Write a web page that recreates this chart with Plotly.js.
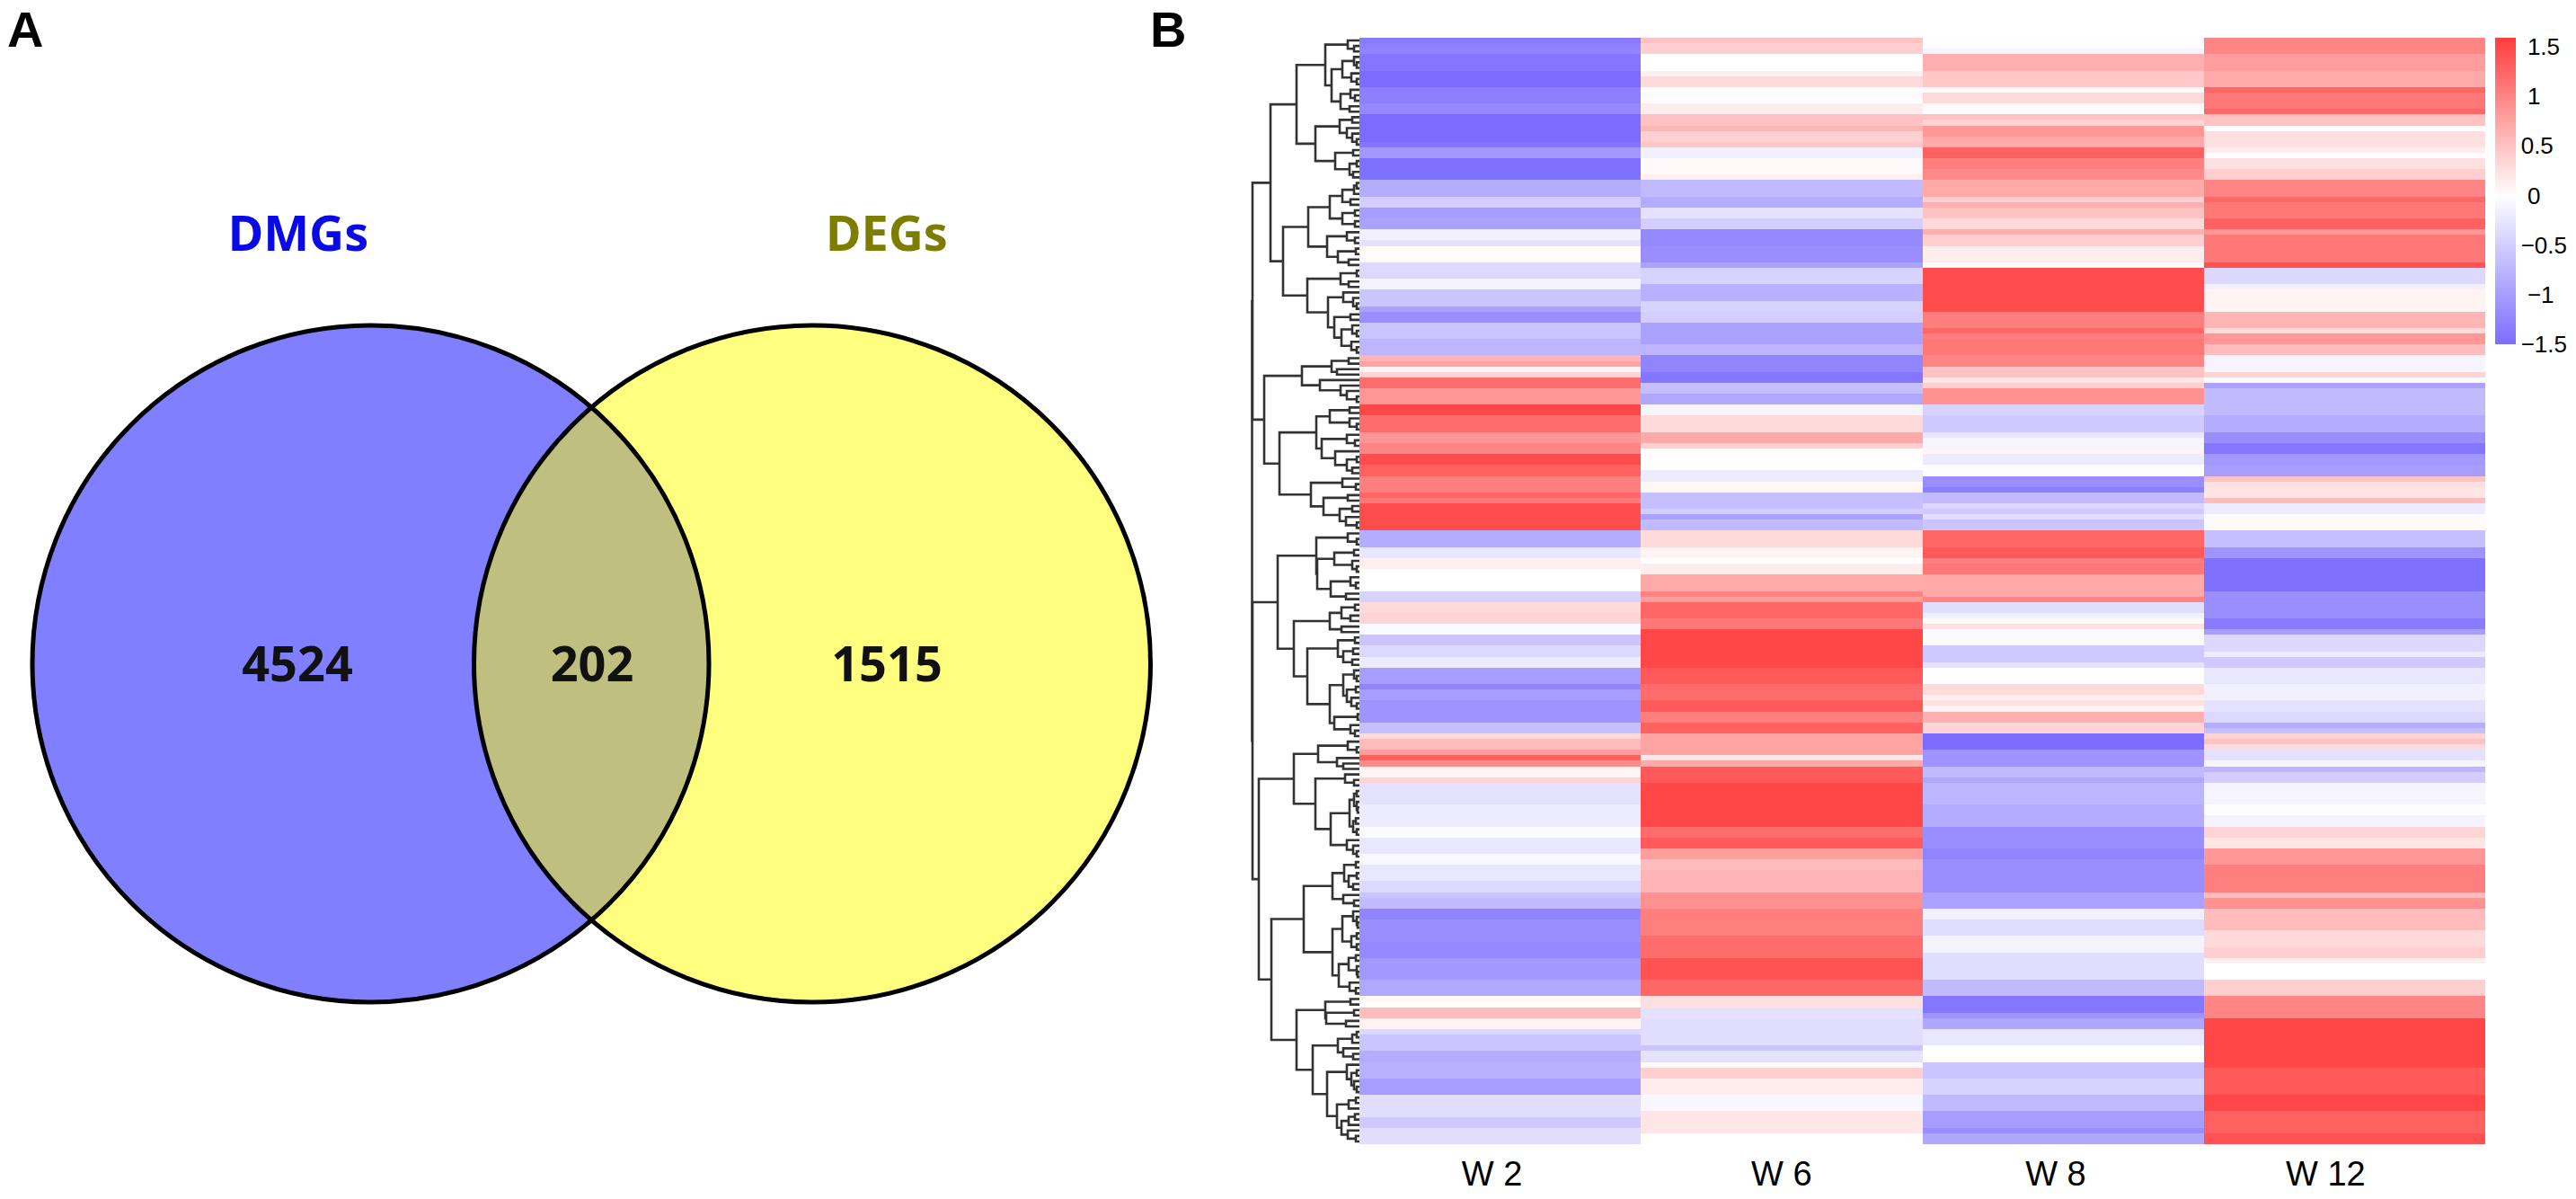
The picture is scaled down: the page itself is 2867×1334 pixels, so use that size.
<!DOCTYPE html>
<html>
<head>
<meta charset="utf-8">
<script src="https://cdn.plot.ly/plotly-3.0.1.min.js"></script>
<style>html,body{margin:0;padding:0;background:#fff}#chart{width:2867px;height:1334px}</style>
</head>
<body>
<div id="chart"></div>
<script>
// ---- Panel A: Venn ----
const setNames = ['DMGs', 'DEGs'];
const setColors = ['#0a0ae6', '#7d7d00'];
const setNameX = [332, 987];
const setNameY = [265, 265];
const setFills = ['rgba(0,0,255,0.5)', 'rgba(255,255,0,0.5)'];
const circleX = [412.5, 904];
const circleY = [738.5, 738.5];
const circleR = [376.5, 376.5];
const regionCounts = ['4524', '202', '1515'];
const regionX = [331, 659, 987];
const regionY = [744, 744, 744];

// ---- Panel B: heatmap, 202 rows. Each column: [row where the run ends, value] ----
const columns = ['W 2', 'W 6', 'W 8', 'W 12'];
const columnTickPos = [-0.029, 0, -0.026, -0.067];
const W2 = [[1,-1.35],[2,-1.3],[3,-1.25],[6,-1.4],[9,-1.5],[12,-1.3],[14,-1.2],[19,-1.5],[20,-1.4],[22,-1.05],[26,-1.45],[29,-0.85],[31,-0.5],[33,-1.0],[35,-0.95],[37,-0.15],[38,-0.3],[41,0.03],
[44,-0.4],[46,-0.12],[49,-0.6],[50.5,-0.95],[52.5,-1.15],[54.6,-0.6],[57.6,-0.75],[58.6,0.6],[59.6,0.75],[60.7,0.1],[61.6,0.35],[63.7,1.2],[66.7,0.85],[68.6,1.5],[71.7,1.2],[73.8,0.85],[75.9,1.0],[77.9,1.45],[79.8,1.3],[82.8,1.05],
[83.9,1.25],[84.9,1.1],[90,1.45],[92.9,-0.85],[95,-0.25],[97,0.12],[101,0.0],[103,-0.45],[105,0.3],[107,0.35],[109,-0.05],[111,-0.6],[113,-0.4],[115,-0.2],[118,-1.0],[119,-1.25],[121,-1.0],
[125.2,-1.1],[127.3,-0.65],[128.4,0.3],[130.4,0.55],[131.5,0.8],[132.3,1.3],[133.4,0.95],[135.3,0.08],[136.4,0.35],[140.5,-0.3],[144.3,-0.2],[146.5,-0.05],[149.5,-0.25],[150.6,-0.07],[153.6,-0.25],[155.8,-0.4],[157.5,-0.6],[158.6,-0.7],[161.3,-1.25],
[165.1,-1.15],[167.6,-1.2],[172.5,-1.05],[174.7,-0.9],[175.8,0.07],[176.9,0.0],[178.8,0.55],[180.9,0.1],[182,-0.4],[185.4,-0.6],[186.9,-0.85],[189.7,-0.8],[192.9,-1.0],[197.1,-0.35],[199,-0.55],[202,-0.35]];
const W6 = [[1,0.5],[3,0.4],[6,0.0],[7,0.12],[9,0.3],[10,0.02],[11,-0.05],[12,-0.02],[14,0.15],[16,0.5],[17,0.6],[19,0.38],[20,0.45],[22,-0.15],[25,0.05],[26,0.12],[29,-0.7],[31,-0.85],[33,-0.3],[35,-0.5],[38,-1.2],[41,-1.15],
[42.4,-0.95],[45.3,-0.45],[48.3,-0.8],[50.5,-0.45],[52.5,-0.5],[55.7,-0.95],[57.6,-0.75],[61.5,-1.25],[62.6,-1.4],[64.8,-0.65],[66.7,-0.9],[68.8,-0.1],[71.7,0.3],[73.8,0.7],[74.9,0.4],[76.8,0.02],[78.8,0.0],[80.9,-0.2],
[82.8,0.07],[85.8,-0.65],[86.9,-0.5],[88,-0.95],[90,-0.7],[92.9,0.3],[95,0.1],[96.2,0.0],[98.1,0.15],[101.1,0.7],[102,1.0],[103,0.8],[106.2,1.25],[108.2,1.1],[115.1,1.5],[118.1,1.35],[121,1.2],
[123.3,1.35],[125.3,1.05],[127.3,1.3],[131,0.75],[131.5,0.85],[132.4,0.2],[133.4,0.7],[136.4,1.35],[144.3,1.5],[145.6,1.2],[148.5,1.35],[150.4,0.8],[151.7,0.55],[155.6,0.6],[156.5,1.05],[158.8,0.9],[161.3,1.05],
[163.8,1.05],[167.9,1.2],[171.7,1.4],[174.7,1.25],[176.9,0.25],[178.8,-0.3],[183.7,-0.35],[184.9,-0.6],[186.7,-0.3],[188,0.04],[189.9,0.4],[193,0.15],[195.9,-0.08],[200,0.2],[202,0.0]];
const W8 = [[2,0.02],[3,-0.12],[6,0.65],[9,0.45],[10,0.05],[12,0.3],[13,0.05],[14,-0.02],[15,0.5],[16,0.35],[18,0.85],[20,0.7],[22,1.3],[24,1.05],[26,0.95],[29,0.7],[30,0.4],[31,0.65],[33,0.5],[35,0.3],[36,0.65],[38,0.4],[40.7,0.15],
[42.4,0.05],[50.4,1.45],[52.7,1.05],[54.4,1.25],[55.5,1.05],[58.5,1.1],[59.6,1.0],[60.5,1.2],[61.8,0.5],[62.7,0.2],[63.7,0.4],[66.7,0.9],[68.6,-0.45],[71.7,-0.55],[72.7,-0.25],[74.6,-0.1],[75.9,0.1],[77.6,-0.2],[79.8,-0.03],[81.7,-1.15],
[82.8,-1.3],[84.9,-0.7],[85.8,-0.4],[86.9,-0.55],[88,-0.35],[90,-0.6],[92.9,1.25],[94.8,1.35],[95.9,1.05],[97.9,1.1],[102,0.7],[103,1.0],[105,-0.35],[106,-0.15],[107,0.03],[108.1,0.25],[111.3,-0.05],[114.3,-0.55],[115.1,-0.3],[118.2,0.0],[120.3,0.3],[121.3,0.12],
[122.4,0.25],[123.3,0.1],[125.3,0.65],[127.3,0.35],[130.4,-1.5],[133.3,-1.1],[134.6,-0.7],[136.4,-0.9],[140.5,-0.75],[144.3,-0.85],[148.5,-1.15],[150.4,-1.25],[155.6,-1.15],[158.6,-0.95],[161.3,-0.15],
[163.6,-0.35],[166.6,-0.12],[171.7,-0.35],[174.9,-0.7],[177.7,-1.4],[178.8,-1.1],[180.9,-0.9],[183.7,-0.25],[186.9,0.0],[190,-0.6],[193,-0.45],[196,-0.7],[199.2,-1.0],[200.4,-1.15],[202,-0.9]];
const W12 = [[3,1.0],[6,0.8],[9,0.7],[10,1.25],[13,1.1],[14,1.25],[16,0.5],[17,0.02],[20,0.25],[21,0.15],[22,0.02],[24,0.25],[26,0.4],[29,1.0],[30,1.25],[33,1.1],[35,1.3],[36,0.85],[40.7,1.1],
[41.5,1.25],[42.4,1.4],[45.3,-0.4],[46.4,-0.15],[50.5,0.1],[52.6,0.6],[54.5,0.3],[55.7,0.85],[57.6,0.55],[60.7,-0.1],[61.6,0.35],[62.6,-0.05],[63.7,-0.95],[64.5,-1.0],[68.8,-0.7],[71.7,-0.85],[73.8,-1.15],[75.7,-1.4],[77.9,-1.05],[79.8,-1.0],[80.7,0.5],
[81.7,0.25],[83.9,0.2],[84.9,0.55],[86.9,-0.2],[90,0.03],[92.9,-0.65],[94.8,-1.1],[100.9,-1.45],[103,-1.15],[106,-1.15],[108,-1.35],[109,-1.0],[112,-0.4],[113,-0.2],[115,-0.55],[118.2,-0.25],[121,-0.15],
[123.3,-0.3],[125.3,-0.4],[126.3,-0.85],[127.3,-0.65],[128.4,0.35],[129.3,0.5],[130.4,0.3],[132.3,-0.3],[133.4,-0.1],[134.5,-0.75],[136.4,-0.5],[140.5,-0.1],[142.4,-0.02],[144.3,-0.12],[145.6,0.35],[148.5,0.2],[150.6,0.85],[155.6,1.05],[156.7,0.55],[158.6,0.9],[163.5,0.55],
[165.7,0.3],[167.6,0.4],[169.5,0.12],[171.7,0.0],[174.7,0.4],[178.8,1.0],[187.6,1.5],[193,1.35],[195.8,1.5],[200,1.3],[202,1.4]];

const barTickVals = [1.5, 1, 0.5, 0, -0.5, -1, -1.5];
const barTickText = ['\u00a01.5', '\u00a01', '0.5', '\u00a00', '\u22120.5', '\u00a0\u22121', '\u22121.5'];

// ---- Dendrogram: [merge height, upper child, lower child]; 0 is a leaf ----
const clusterA = [99,
  [70,
    [38,[13,0,[6,0,0]],[31,[19,[6,0,[3,0,0]],[9,0,[3,0,0]]],[21,[10,0,[5,0,0]],[11,0,0]]]],
    [49,[22,[8,0,0],[14,0,[8,0,[3,0,0]]]],[27,[7,0,0],[11,[3,0,0],[7,0,0]]]]],
  [85,
    [57,[33,[19,[6,[3,0,0],0],[10,0,0]],[19,[5,0,0],[5,0,0]]],[36,[14,0,[5,0,0]],[24,[4,0,0],[12,0,0]]]],
    [58,[21,[3,0,0],[12,0,0]],[35,[18,0,[7,0,[3,0,0]]],[28,[10,0,0],[20,[8,0,[3,0,0]],[9,0,[3,0,0]]]]]]]];
const clusterB = [106,
  [64,[31,[12,0,0],[25,0,0]],[44,0,[21,0,[14,0,[3,0,0]]]]],
  [89,
    [48,[33,[11,0,0],[11,0,[3,0,0]]],[42,[14,0,[5,0,0]],[27,0,[14,[3,0,0],[8,0,0]]]]],
    [54,[19,0,[4,0,0]],[40,[13,0,0],[22,[8,0,0],[15,0,[3,0,0]]]]]]];
const clusterC = [91,
  [48,[13,0,[3,0,0]],[47,[28,[6,0,0],[8,0,[3,0,0]]],[32,[10,0,[4,0,0]],[15,0,0]]]],
  [73,
    [33,[20,[5,0,0],[10,0,0]],[20,0,0]],
    [58,[24,[5,0,0],[18,[7,0,0],[8,0,0]]],
      [33,[18,[6,0,[3,0,0]],[14,[4,0,0],[9,0,[3,0,0]]]],[28,[2,0,0],[10,0,[5,0,0]]]]]]];
const clusterD = [112,
  [73,
    [46,[13,0,[3,0,0]],[25,0,[18,0,0]]],
    [49,[16,0,[6,0,0]],[32,[11,[6,[3,0,0],[3,0,[2,0,0]]],[7,[4,0,0],[3,0,0]]],[14,0,[7,0,[3,0,0]]]]]],
  [98,
    [62,
      [30,[17,[4,0,0],[12,[3,0,0],[7,0,0]]],[18,0,[6,0,0]]],
      [30,[19,[7,0,[3,0,[2,0,0]]],[9,[3,0,0],[3,0,0]]],[23,[12,[4,0,0],[3,0,[2,0,0]]],[11,0,[4,0,0]]]]],
    [70,
      [38,[10,0,0],[37,[6,0,0],[15,0,0]]],
      [52,[24,[8,[3,0,0],0],[18,0,[7,0,0]]],
        [36,[14,0,[9,[3,0,0],[6,0,[3,0,0]]]],[25,[12,[4,0,0],0],[20,[12,[5,0,0],0],[13,0,[4,0,0]]]]]]]]];
const tree = [119.5,[119,clusterA,clusterB],[119,clusterC,clusterD]];

// ---- build ----
const nRows = 202;
function expand(runs){
  const out = []; let k = 0;
  for (let r = 0; r < nRows; r++){
    while (k < runs.length-1 && r + 0.5 >= runs[k][0]) k++;
    out.push(runs[k][1]);
  }
  return out;
}
const cols = [W2, W6, W8, W12].map(expand);
const z = []; const rowY = [];
for (let r = 0; r < nRows; r++){ z.push(cols.map(c => c[r])); rowY.push(r + 0.5); }

const dx = [], dy = [];
let leafCounter = 0;
function walk(n){
  if (n === 0) { const y = leafCounter + 0.5; leafCounter++; return {h:0, y:y}; }
  const a = walk(n[1]), b = walk(n[2]);
  dx.push(a.h, n[0], n[0], b.h, null);
  dy.push(a.y, a.y, b.y, b.y, null);
  return {h:n[0], y:(a.y+b.y)/2};
}
walk(tree);

const W = 2867, H = 1334;
const heatL = 1513, heatR = 2766, heatT = 42, heatB = 1273;
const scaleStops = [[0,'rgb(123,108,255)'],[1.5/3.09,'rgb(255,255,255)'],[1,'rgb(255,60,60)']];

const traces = [
  {type:'heatmap', x:[0,1,2,3], y:rowY, z:z, xaxis:'x', yaxis:'y', zmin:-1.5, zmax:1.59,
   colorscale:scaleStops, hoverinfo:'skip',
   colorbar:{x:2777/W, xanchor:'left', xref:'paper', xpad:0, y:1-heatT/H, yanchor:'top', yref:'paper', ypad:0,
     thickness:23, thicknessmode:'pixels', len:341, lenmode:'pixels', outlinewidth:0, borderwidth:0,
     tickmode:'array', tickvals:barTickVals, ticktext:barTickText, ticks:'',
     tickfont:{family:'Liberation Sans, Arial, sans-serif', size:26, color:'#000'}}},
  {type:'scatter', mode:'lines', x:dx, y:dy, xaxis:'x2', yaxis:'y', hoverinfo:'skip',
   line:{color:'#333', width:2.6}, showlegend:false},
  {type:'scatter', mode:'text', x:regionX, y:regionY, text:regionCounts, xaxis:'x3', yaxis:'y3',
   textposition:'middle center', hoverinfo:'skip', showlegend:false,
   textfont:{family:'Noto Sans, sans-serif', size:54, color:'#111', weight:700}},
  {type:'scatter', mode:'text', x:setNameX, y:setNameY, text:setNames, xaxis:'x3', yaxis:'y3',
   textposition:'middle center', hoverinfo:'skip', showlegend:false,
   textfont:{family:'Noto Sans, sans-serif', size:54, color:setColors, weight:700}}
];

const venn = [];
setNames.forEach((s,i)=>venn.push({type:'circle', xref:'x3', yref:'y3', layer:'below',
  x0:circleX[i]-circleR[i], x1:circleX[i]+circleR[i], y0:circleY[i]-circleR[i], y1:circleY[i]+circleR[i],
  fillcolor:setFills[i], line:{width:0}}));
setNames.forEach((s,i)=>venn.push({type:'circle', xref:'x3', yref:'y3', layer:'below',
  x0:circleX[i]-circleR[i], x1:circleX[i]+circleR[i], y0:circleY[i]-circleR[i], y1:circleY[i]+circleR[i],
  fillcolor:'rgba(0,0,0,0)', line:{color:'#000', width:5}}));

const layout = {
  width:W, height:H, margin:{l:0,r:0,t:0,b:0}, paper_bgcolor:'#fff', plot_bgcolor:'rgba(0,0,0,0)',
  showlegend:false, hovermode:false,
  xaxis:{domain:[heatL/W, heatR/W], range:[-0.5,3.5], anchor:'y', tickmode:'array', tickvals:columnTickPos.map((d,i)=>i+d), ticktext:columns,
    ticks:'', ticklabelstandoff:7, showgrid:false, zeroline:false, showline:false,
    tickfont:{family:'Liberation Sans, Arial, sans-serif', size:38, color:'#000'}},
  yaxis:{domain:[1-heatB/H, 1-heatT/H], range:[nRows,0], anchor:'x', visible:false, showgrid:false, zeroline:false},
  xaxis2:{domain:[1300/W, heatL/W], range:[213,0], anchor:'y', visible:false, showgrid:false, zeroline:false},
  xaxis3:{domain:[0,1300/W], range:[0,1300], anchor:'y3', visible:false, showgrid:false, zeroline:false},
  yaxis3:{domain:[0,1], range:[H,0], anchor:'x3', visible:false, showgrid:false, zeroline:false},
  shapes:venn,
  annotations:[
    {text:'A', xref:'paper', yref:'paper', x:28/W, y:1-33/H, xanchor:'center', yanchor:'middle', showarrow:false,
     font:{family:'Liberation Sans, Arial, sans-serif', size:56, color:'#000', weight:700}},
    {text:'B', xref:'paper', yref:'paper', x:1300/W, y:1-33/H, xanchor:'center', yanchor:'middle', showarrow:false,
     font:{family:'Liberation Sans, Arial, sans-serif', size:56, color:'#000', weight:700}}
  ]
};
Plotly.newPlot('chart', traces, layout, {staticPlot:true, displayModeBar:false});
</script>
</body>
</html>
